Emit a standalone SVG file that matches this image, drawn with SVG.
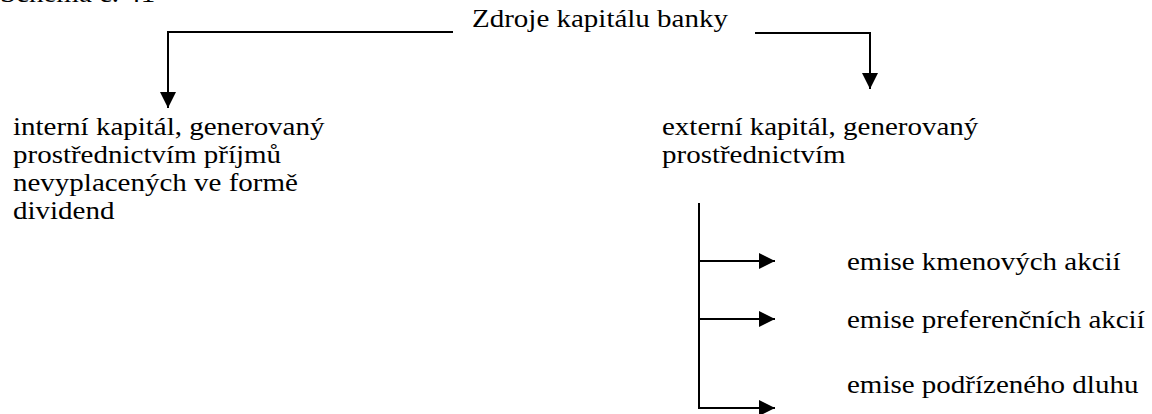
<svg xmlns="http://www.w3.org/2000/svg" width="1152" height="414" viewBox="0 0 1152 414">
<style>
text{font-family:"Liberation Serif","Times New Roman",serif;font-size:29px;fill:#000}
.ln{fill:none;stroke:#000;stroke-width:2}
</style>
<defs>
<marker id="ah" markerWidth="16" markerHeight="16" refX="16" refY="8" orient="auto" markerUnits="userSpaceOnUse">
<path d="M0,0 L16,8 L0,16 Z" fill="#000"/>
</marker>
</defs>
<rect width="1152" height="414" fill="#fff"/>
<text transform="translate(0,1.5) scale(1,0.86)">Schéma č. 41</text>
<g id="root"><text transform="translate(472,27) scale(1,0.86)">Zdroje kapitálu banky</text></g>
<g id="internal">
<text transform="translate(13,135) scale(1,0.86)">interní kapitál, generovaný</text>
<text transform="translate(13,163) scale(1,0.86)">prostřednictvím příjmů</text>
<text transform="translate(13,191) scale(1,0.86)">nevyplacených ve formě</text>
<text transform="translate(13,219) scale(1,0.86)">dividend</text>
</g>
<g id="external">
<text transform="translate(662,135) scale(1,0.86)">externí kapitál, generovaný</text>
<text transform="translate(662,163) scale(1,0.86)">prostřednictvím</text>
</g>
<g id="kmen"><text transform="translate(847,270) scale(1,0.86)">emise kmenových akcií</text></g>
<g id="pref"><text transform="translate(847,328) scale(1,0.86)">emise preferenčních akcií</text></g>
<g id="podr"><text transform="translate(847,393) scale(1,0.86)">emise podřízeného dluhu</text></g>
<g id="connectors">
<path class="ln" d="M453,32 H168 V108" marker-end="url(#ah)"/>
<path class="ln" d="M755,33 H870 V89" marker-end="url(#ah)"/>
<path class="ln" d="M699,203 V409"/>
<path class="ln" d="M699,261 H775" marker-end="url(#ah)"/>
<path class="ln" d="M699,319 H775" marker-end="url(#ah)"/>
<path class="ln" d="M699,408 H775" marker-end="url(#ah)"/>
</g>
</svg>
